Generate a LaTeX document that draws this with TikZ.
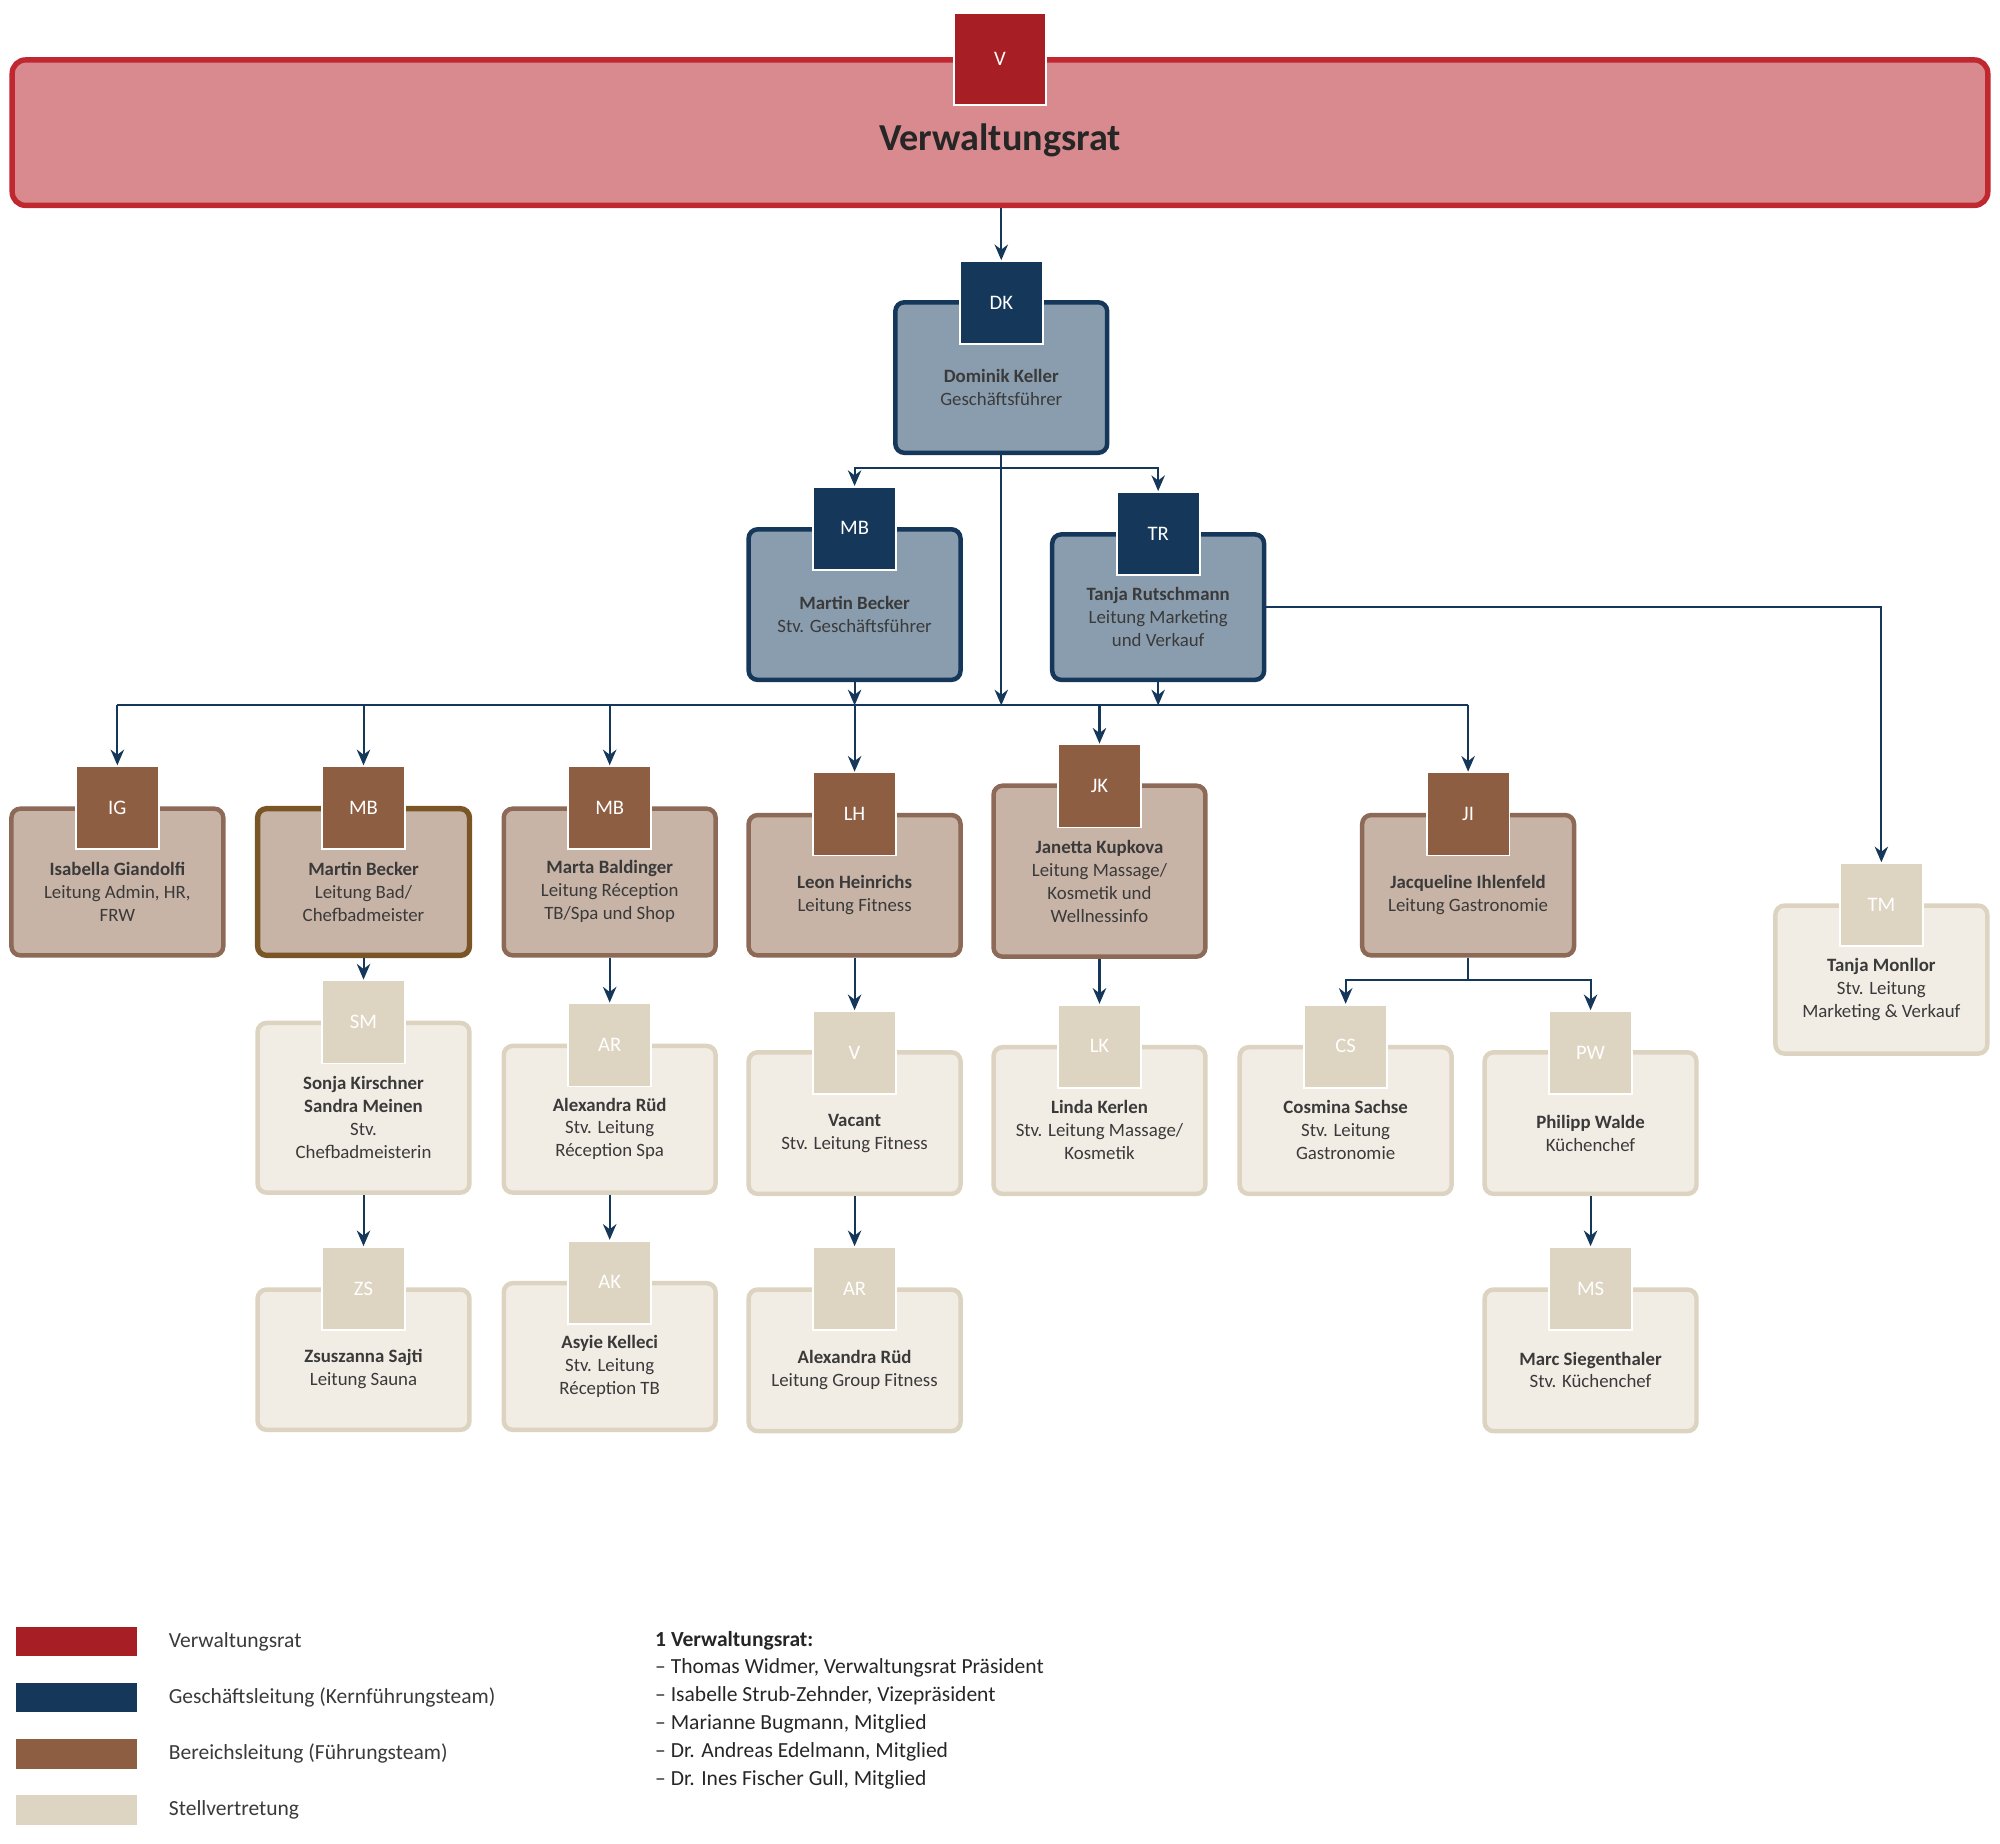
\documentclass[tikz,border=0pt]{standalone}
\usepackage{fontspec}
\setmainfont{Carlito}
\usetikzlibrary{arrows.meta,calc}
\definecolor{vrred}{HTML}{A71E25}
\definecolor{vrfill}{HTML}{D88A8E}
\definecolor{vrline}{HTML}{C0282F}
\definecolor{glnavy}{HTML}{14375A}
\definecolor{glfill}{HTML}{8A9DAE}
\definecolor{blbrown}{HTML}{8E5E42}
\definecolor{blfill}{HTML}{C8B4A6}
\definecolor{blline}{HTML}{8C6A57}
\definecolor{blgold}{HTML}{7A5525}
\definecolor{stvtab}{HTML}{DED4C2}
\definecolor{stvfill}{HTML}{F2EDE4}
\definecolor{stvline}{HTML}{DDD3C1}
\definecolor{txt}{HTML}{3A3A3A}
\newcommand\orgunit[8]{%
  \node[#6 box,minimum height={(#5-#4)*0.01cm}] (#1) at (#2,{(#4+#5)/2}) {};
  \node[#6 tab,anchor=north] (#1-t) at (#2,#3) {#7};
  \node[#6 txt] (#1-x) at (#2,{(#3+65+#5)/2-8}) {#8};}
\tikzset{
  unit box/.style={draw,rounded corners=2pt,line width=1pt,minimum width=1.66cm},
  unit tab/.style={draw=white,line width=0.4pt,minimum size=0.65cm,inner sep=0pt,
    font=\fontsize{4.6}{5}\selectfont,text=white},
  unit txt/.style={align=center,font=\fontsize{4.2}{5.1}\selectfont,text=txt},
  gl box/.style={unit box,fill=glfill,draw=glnavy},
  gl tab/.style={unit tab,fill=glnavy},
  gl txt/.style={unit txt},
  bl box/.style={unit box,fill=blfill,draw=blline},
  bl tab/.style={unit tab,fill=blbrown},
  bl txt/.style={unit txt},
  blx box/.style={bl box,draw=blgold,line width=1.2pt},
  blx tab/.style={bl tab},
  blx txt/.style={bl txt},
  stv box/.style={unit box,fill=stvfill,draw=stvline},
  stv tab/.style={unit tab,fill=stvtab},
  stv txt/.style={unit txt},
  conn/.style={draw=glnavy,line width=0.45pt},
  >={Stealth[width=3pt,length=3.5pt]},
  legend box/.style={minimum width=0.95cm,minimum height=0.23cm,inner sep=0pt},
  legend txt/.style={anchor=west,font=\fontsize{4.8}{6}\selectfont,text=txt}
}
\begin{document}
\begin{tikzpicture}[x=0.01cm,y=-0.01cm]
  \useasboundingbox (0,0) rectangle (1568,1445);
  % Verwaltungsrat
  \node[draw=vrline,fill=vrfill,line width=1.2pt,rounded corners=3pt,
    minimum width=15.48cm,minimum height=1.14cm] (vr) at (784,104) {};
  \node[draw=white,fill=vrred,minimum size=0.72cm,inner sep=0pt,text=white,
    font=\fontsize{4.6}{5}\selectfont] (vr-t) at (784,46) {V};
  \node[font=\bfseries\fontsize{8.5}{9}\selectfont,text=black!85] (vr-x) at (784,110) {Verwaltungsrat};
  % Geschaeftsleitung
  \orgunit{dk}{785}{204}{237}{355}{gl}{DK}{\textbf{Dominik Keller}\\Geschäftsführer}
  \orgunit{mb}{670}{381}{415}{533}{gl}{MB}{\textbf{Martin Becker}\\Stv. Geschäftsführer}
  \orgunit{tr}{908}{385}{419}{533}{gl}{TR}{\textbf{Tanja Rutschmann}\\Leitung Marketing\\und Verkauf}
  % Bereichsleitung
  \orgunit{ig}{92}{600}{634}{749}{bl}{IG}{\textbf{Isabella Giandolfi}\\Leitung Admin, HR,\\FRW}
  \orgunit{mbb}{285}{600}{634}{749}{blx}{MB}{\textbf{Martin Becker}\\Leitung Bad/\\Chefbadmeister}
  \orgunit{mbd}{478}{600}{634}{749}{bl}{MB}{\textbf{Marta Baldinger}\\Leitung Réception\\TB/Spa und Shop}
  \orgunit{lh}{670}{605}{639}{749}{bl}{LH}{\textbf{Leon Heinrichs}\\Leitung Fitness}
  \orgunit{jk}{862}{583}{616}{750}{bl}{JK}{\textbf{Janetta Kupkova}\\Leitung Massage/\\Kosmetik und\\Wellnessinfo}
  \orgunit{ji}{1151}{605}{639}{749}{bl}{JI}{\textbf{Jacqueline Ihlenfeld}\\Leitung Gastronomie}
  % Stellvertretung
  \orgunit{sm}{285}{768}{802}{935}{stv}{SM}{\textbf{Sonja Kirschner}\\\textbf{Sandra Meinen}\\Stv.\\Chefbadmeisterin}
  \orgunit{ar}{478}{786}{820}{935}{stv}{AR}{\textbf{Alexandra Rüd}\\Stv. Leitung\\Réception Spa}
  \orgunit{vc}{670}{792}{825}{936}{stv}{V}{\textbf{Vacant}\\Stv. Leitung Fitness}
  \orgunit{lk}{862}{787}{821}{936}{stv}{LK}{\textbf{Linda Kerlen}\\Stv. Leitung Massage/\\Kosmetik}
  \orgunit{cs}{1055}{787}{821}{936}{stv}{CS}{\textbf{Cosmina Sachse}\\Stv. Leitung\\Gastronomie}
  \orgunit{pw}{1247}{792}{825}{936}{stv}{PW}{\textbf{Philipp Walde}\\Küchenchef}
  \orgunit{tm}{1475}{676}{710}{826}{stv}{TM}{\textbf{Tanja Monllor}\\Stv. Leitung\\Marketing \& Verkauf}
  \orgunit{zs}{285}{977}{1011}{1121}{stv}{ZS}{\textbf{Zsuszanna Sajti}\\Leitung Sauna}
  \orgunit{ak}{478}{972}{1006}{1121}{stv}{AK}{\textbf{Asyie Kelleci}\\Stv. Leitung\\Réception TB}
  \orgunit{ar2}{670}{977}{1011}{1122}{stv}{AR}{\textbf{Alexandra Rüd}\\Leitung Group Fitness}
  \orgunit{ms}{1247}{977}{1011}{1122}{stv}{MS}{\textbf{Marc Siegenthaler}\\Stv. Küchenchef}
  % connectors
  \coordinate (glbus) at (785,367);
  \coordinate (busL) at (92,553);
  \coordinate (busR) at (1151,553);
  \coordinate (jibus) at (1151,768);
  \draw[conn,->] (dk-t.north|-vr.south) -- (dk-t.north);
  \draw[conn,->] (dk-t.north|-glbus) -| (mb-t.north);
  \draw[conn,->] (dk-t.north|-glbus) -| (tr-t.north);
  \draw[conn] (busL) -- (busR);
  \foreach \n in {dk,mb,tr}
    \draw[conn,->] (\n.south) -- (\n.south|-busL);
  \foreach \n in {ig,mbb,mbd,lh,jk,ji}
    \draw[conn,->] (\n-t.north|-busL) -- (\n-t.north);
  \draw[conn,->] (tr.east) -| (tm-t.north);
  \draw[conn] (ji.south) -- (jibus);
  \draw[conn,->] (jibus) -| (cs-t.north);
  \draw[conn,->] (jibus) -| (pw-t.north);
  \draw[conn,->] (mbb.south) -- (sm-t.north);
  \draw[conn,->] (sm.south) -- (zs-t.north);
  \draw[conn,->] (mbd.south) -- (ar-t.north);
  \draw[conn,->] (ar.south) -- (ak-t.north);
  \draw[conn,->] (lh.south) -- (vc-t.north);
  \draw[conn,->] (vc.south) -- (ar2-t.north);
  \draw[conn,->] (jk.south) -- (lk-t.north);
  \draw[conn,->] (pw.south) -- (ms-t.north);
  % legend
  \node[legend box,fill=vrred] (lg1) at (60,1287) {};
  \node[legend box,fill=glnavy] (lg2) at (60,1331) {};
  \node[legend box,fill=blbrown] (lg3) at (60,1375) {};
  \node[legend box,fill=stvtab] (lg4) at (60,1419) {};
  \node[legend txt] at (120,1287) {Verwaltungsrat};
  \node[legend txt] at (120,1331) {Geschäftsleitung (Kernführungsteam)};
  \node[legend txt] at (120,1375) {Bereichsleitung (Führungsteam)};
  \node[legend txt] at (120,1419) {Stellvertretung};
  \node[anchor=north west,align=left,inner sep=0pt,text=black!85,
    font=\fontsize{4.8}{6.2}\selectfont] (vr-list) at (513,1278)
    {\textbf{1 Verwaltungsrat:}\\
     – Thomas Widmer, Verwaltungsrat Präsident\\
     – Isabelle Strub-Zehnder, Vizepräsident\\
     – Marianne Bugmann, Mitglied\\
     – Dr. Andreas Edelmann, Mitglied\\
     – Dr. Ines Fischer Gull, Mitglied};
\end{tikzpicture}
\end{document}
